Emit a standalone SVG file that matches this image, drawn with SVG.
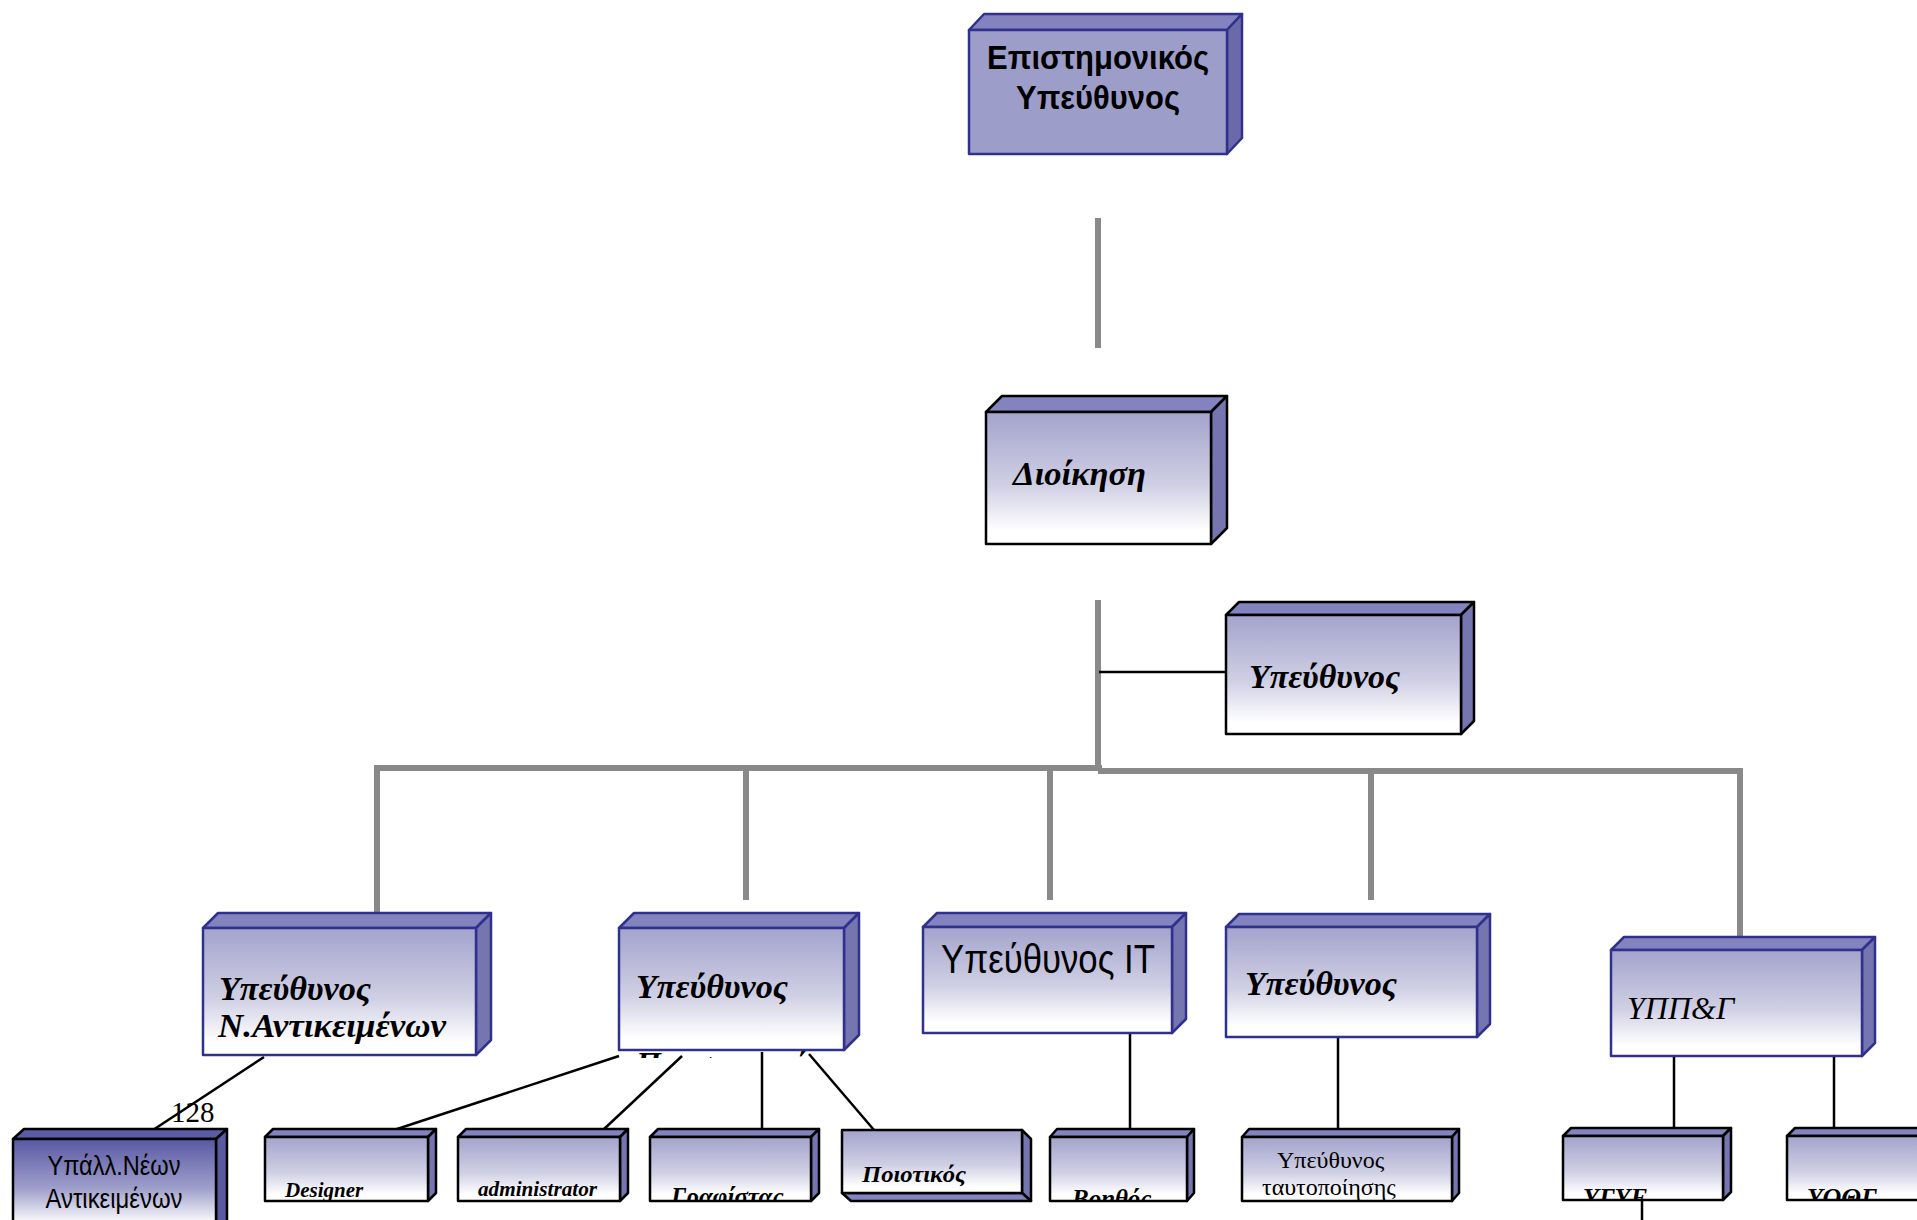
<svg xmlns="http://www.w3.org/2000/svg" width="1917" height="1220" viewBox="0 0 1917 1220">
<defs>
<linearGradient id="g" x1="0" y1="0" x2="0" y2="1">
<stop offset="0" stop-color="#a3a3cd"/><stop offset="0.55" stop-color="#cfcfe4"/><stop offset="0.9" stop-color="#ffffff"/>
</linearGradient>
<linearGradient id="gd" x1="0" y1="0" x2="0" y2="1">
<stop offset="0" stop-color="#5858a4"/><stop offset="0.5" stop-color="#a0a0cc"/><stop offset="0.85" stop-color="#ffffff"/>
</linearGradient>
<clipPath id="cGraf"><rect x="650" y="1137" width="161" height="64"/></clipPath>
<clipPath id="cBoi"><rect x="1050" y="1137" width="137" height="64"/></clipPath>
<clipPath id="cYG"><rect x="1563" y="1136" width="160" height="64"/></clipPath>
<clipPath id="cYO"><rect x="1787" y="1136" width="200" height="64"/></clipPath>
<clipPath id="cPr"><rect x="600" y="1046" width="260" height="12"/></clipPath>
</defs>
<style>
.front{fill:url(#g);stroke-width:2.5;stroke-linejoin:round}
.top{fill:#8383bf;stroke-width:2.5;stroke-linejoin:round}
.side{fill:#7575b0;stroke-width:2.5;stroke-linejoin:round}
.b .front,.b .top,.b .side{stroke:#30308e}
.k .front,.k .top,.k .side{stroke:#000}
.gray{stroke:#898989;stroke-width:6;fill:none}
.thin{stroke:#000;stroke-width:2.5;fill:none}
.bi{font-family:"Liberation Serif",serif;font-weight:bold;font-style:italic;fill:#000}
.sans{font-family:"Liberation Sans",sans-serif;fill:#000}
.ser{font-family:"Liberation Serif",serif;fill:#000}
</style>
<rect width="1917" height="1220" fill="#fff"/>

<g id="connectors">
<path class="gray" d="M1098,218V348"/>
<path class="gray" d="M1098,600V771"/>
<path class="gray" d="M374,768H1102"/>
<path class="gray" d="M1098,771H1743"/>
<path class="gray" d="M377,768V913"/>
<path class="gray" d="M746,768V900"/>
<path class="gray" d="M1050,768V900"/>
<path class="gray" d="M1371,771V900"/>
<path class="gray" d="M1740,771V937"/>
<path class="thin" d="M1099,672H1226"/>
<path class="thin" d="M264,1057L153,1130"/>
<path class="thin" d="M619,1056L394,1130"/>
<path class="thin" d="M682,1056L603,1130"/>
<path class="thin" d="M762,1052V1130"/>
<path class="thin" d="M809,1054L874,1130"/>
<path class="thin" d="M1130,1033V1130"/>
<path class="thin" d="M1338,1037V1130"/>
<path class="thin" d="M1674,1056V1130"/>
<path class="thin" d="M1834,1056V1130"/>
<path class="thin" d="M1642,1200V1220"/>
</g>

<g id="n-epistimonikos" class="b">
<polygon class="top" points="969,30 984,14 1242,14 1227,30"/>
<polygon class="side" points="1227,30 1242,14 1242,138 1227,154" style="fill:#6a6aab"/>
<rect class="front" x="969" y="30" width="258" height="124" style="fill:#9d9dca"/>
<text class="sans" x="1098" y="69" font-size="33" font-weight="bold" text-anchor="middle" textLength="222" lengthAdjust="spacingAndGlyphs">Επιστημονικός</text>
<text class="sans" x="1098" y="109" font-size="33" font-weight="bold" text-anchor="middle" textLength="164" lengthAdjust="spacingAndGlyphs">Υπεύθυνος</text>
</g>

<g id="n-dioikisi" class="k">
<polygon class="top" points="986,412 1002,396 1227,396 1211,412"/>
<polygon class="side" points="1211,412 1227,396 1227,528 1211,544"/>
<rect class="front" x="986" y="412" width="225" height="132"/>
<text class="bi" x="1013" y="485" font-size="33" textLength="133" lengthAdjust="spacingAndGlyphs">Διοίκηση</text>
</g>

<g id="n-ypeuthynos-right" class="k">
<polygon class="top" points="1226,615 1239,602 1474,602 1461,615"/>
<polygon class="side" points="1461,615 1474,602 1474,721 1461,734"/>
<rect class="front" x="1226" y="615" width="235" height="119"/>
<text class="bi" x="1249" y="688" font-size="33" textLength="151" lengthAdjust="spacingAndGlyphs">Υπεύθυνος</text>
</g>

<g id="n-ypeuthynos-nantikeimenon" class="b">
<polygon class="top" points="203,928 218,913 491,913 476,928"/>
<polygon class="side" points="476,928 491,913 491,1040 476,1055"/>
<rect class="front" x="203" y="928" width="273" height="127"/>
<text class="bi" x="219" y="1000" font-size="33" textLength="152" lengthAdjust="spacingAndGlyphs">Υπεύθυνος</text>
<text class="bi" x="218" y="1037" font-size="33" textLength="228" lengthAdjust="spacingAndGlyphs">Ν.Αντικειμένων</text>
</g>

<g id="n-ypeuthynos-2" class="b">
<text class="bi" x="636" y="1074" font-size="32" clip-path="url(#cPr)">Προσωπικού</text>
<polygon class="top" points="619,928 634,913 859,913 844,928"/>
<polygon class="side" points="844,928 859,913 859,1035 844,1050"/>
<rect class="front" x="619" y="928" width="225" height="122"/>
<text class="bi" x="636" y="998" font-size="33" textLength="152" lengthAdjust="spacingAndGlyphs">Υπεύθυνος</text>
</g>

<g id="n-ypeuthynos-it" class="b">
<polygon class="top" points="923,927 937,913 1186,913 1172,927"/>
<polygon class="side" points="1172,927 1186,913 1186,1019 1172,1033"/>
<rect class="front" x="923" y="927" width="249" height="106"/>
<text class="sans" x="941" y="973" font-size="40" textLength="214" lengthAdjust="spacingAndGlyphs">Υπεύθυνος IT</text>
</g>

<g id="n-ypeuthynos-4" class="b">
<polygon class="top" points="1226,927 1239,914 1490,914 1477,927"/>
<polygon class="side" points="1477,927 1490,914 1490,1024 1477,1037"/>
<rect class="front" x="1226" y="927" width="251" height="110"/>
<text class="bi" x="1245" y="995" font-size="33" textLength="152" lengthAdjust="spacingAndGlyphs">Υπεύθυνος</text>
</g>

<g id="n-yppg" class="b">
<polygon class="top" points="1611,950 1624,937 1875,937 1862,950"/>
<polygon class="side" points="1862,950 1875,937 1875,1043 1862,1056"/>
<rect class="front" x="1611" y="950" width="251" height="106"/>
<text class="ser" x="1627" y="1019" font-size="32" font-style="italic">ΥΠΠ&amp;Γ</text>
</g>

<g id="n-ypall" class="k">
<polygon class="top" points="13,1139 24,1129 227,1129 216,1139" style="fill:#5c5ca6"/>
<polygon class="side" points="216,1139 227,1129 227,1230 216,1240" style="fill:#5a5aa0"/>
<rect class="front" x="13" y="1139" width="203" height="100" style="fill:url(#gd)"/>
<text class="sans" x="114" y="1175" font-size="28" text-anchor="middle" textLength="133" lengthAdjust="spacingAndGlyphs">Υπάλλ.Νέων</text>
<text class="sans" x="114" y="1208" font-size="28" text-anchor="middle" textLength="137" lengthAdjust="spacingAndGlyphs">Αντικειμένων</text>
</g>
<text id="lbl-128" class="ser" x="171" y="1122" font-size="29">128</text>

<g id="n-designer" class="k">
<polygon class="top" points="265,1137 273,1129 436,1129 428,1137"/>
<polygon class="side" points="428,1137 436,1129 436,1193 428,1201"/>
<rect class="front" x="265" y="1137" width="163" height="64"/>
<text class="bi" x="285" y="1197" font-size="21">Designer</text>
</g>

<g id="n-administrator" class="k">
<polygon class="top" points="458,1137 466,1129 628,1129 620,1137"/>
<polygon class="side" points="620,1137 628,1129 628,1193 620,1201"/>
<rect class="front" x="458" y="1137" width="162" height="64"/>
<text class="bi" x="478" y="1196" font-size="21" textLength="119" lengthAdjust="spacingAndGlyphs">administrator</text>
</g>

<g id="n-grafistas" class="k">
<polygon class="top" points="650,1137 658,1129 819,1129 811,1137"/>
<polygon class="side" points="811,1137 819,1129 819,1193 811,1201"/>
<rect class="front" x="650" y="1137" width="161" height="64"/>
<text class="bi" x="671" y="1205" font-size="25" clip-path="url(#cGraf)">Γραφίστας</text>
</g>

<g id="n-poiotikos" class="k">
<polygon class="side" points="1022,1130 1031,1139 1031,1201 1022,1193"/>
<polygon class="top" points="842,1193 1022,1193 1031,1201 851,1201"/>
<rect class="front" x="842" y="1130" width="180" height="63"/>
<text class="bi" x="862" y="1182" font-size="23" textLength="104" lengthAdjust="spacingAndGlyphs">Ποιοτικός</text>
</g>

<g id="n-voithos" class="k">
<polygon class="top" points="1050,1137 1057,1129 1194,1129 1187,1137"/>
<polygon class="side" points="1187,1137 1194,1129 1194,1193 1187,1201"/>
<rect class="front" x="1050" y="1137" width="137" height="64"/>
<text class="bi" x="1072" y="1207" font-size="25" clip-path="url(#cBoi)">Βοηθός</text>
</g>

<g id="n-tautopoiisi" class="k">
<polygon class="top" points="1242,1137 1249,1129 1459,1129 1452,1137"/>
<polygon class="side" points="1452,1137 1459,1129 1459,1193 1452,1201"/>
<rect class="front" x="1242" y="1137" width="210" height="64"/>
<text class="ser" x="1277" y="1168" font-size="24">Υπεύθυνος</text>
<text class="ser" x="1262" y="1195" font-size="24">ταυτοποίησης</text>
</g>

<g id="n-ygye" class="k">
<polygon class="top" points="1563,1136 1571,1128 1731,1128 1723,1136"/>
<polygon class="side" points="1723,1136 1731,1128 1731,1192 1723,1200"/>
<rect class="front" x="1563" y="1136" width="160" height="64"/>
<text class="bi" x="1583" y="1206" font-size="26" clip-path="url(#cYG)">ΥΓΥΕ</text>
</g>

<g id="n-yothg" class="k">
<polygon class="top" points="1787,1136 1795,1128 1995,1128 1987,1136"/>
<rect class="front" x="1787" y="1136" width="200" height="64"/>
<text class="bi" x="1807" y="1206" font-size="26" clip-path="url(#cYO)">ΥΟΘΓ</text>
</g>
</svg>
